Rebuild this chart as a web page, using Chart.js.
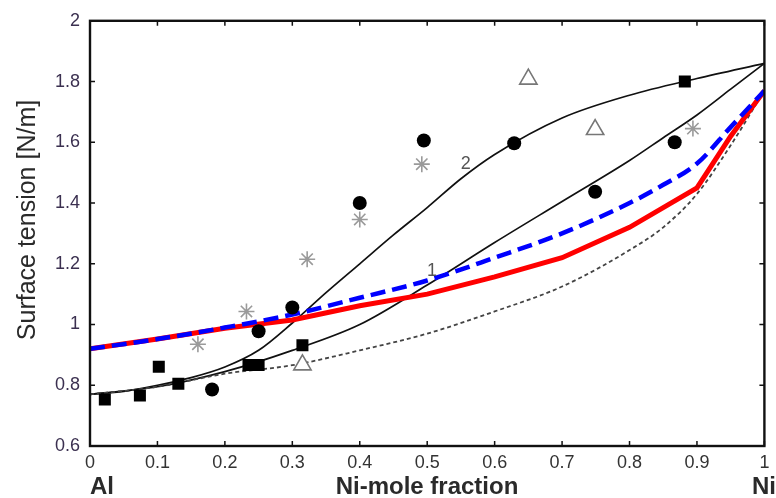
<!DOCTYPE html>
<html>
<head>
<meta charset="utf-8">
<script src="https://cdn.jsdelivr.net/npm/chart.js@4.4.1/dist/chart.umd.min.js"></script>
<style>
  html, body { margin:0; padding:0; background:#fff; }
  #wrap { width:776px; height:498px; position:relative; }
</style>
</head>
<body>
<div id="wrap"><canvas id="chart" width="776" height="498"></canvas></div>
<script>
// ===== DATA =====
const xSteps   = [0, 0.1, 0.2, 0.3, 0.4, 0.5, 0.6, 0.7, 0.8, 0.85, 0.9, 0.95, 1];
const redLine  = [0.92, 0.952, 0.988, 1.015, 1.062, 1.10, 1.157, 1.22, 1.32, 1.385, 1.45, 1.62, 1.77];
const blueLine = [0.92, 0.952, 0.99, 1.033, 1.088, 1.145, 1.22, 1.30, 1.40, 1.46, 1.53, 1.65, 1.77];
const dashLine = [0.77, 0.795, 0.838, 0.866, 0.915, 0.97, 1.043, 1.125, 1.245, 1.32, 1.43, 1.59, 1.77];
const curve1   = [0.77, 0.795, 0.845, 0.915, 1.0, 1.13, 1.27, 1.405, 1.54, 1.615, 1.69, 1.775, 1.86];
const curve2X  = [0, 0.05, 0.1, 0.15, 0.2, 0.25, 0.3, 0.35, 0.4, 0.45, 0.5, 0.55, 0.6, 0.7, 0.8, 0.9, 1];
const curve2   = [0.77, 0.78, 0.80, 0.825, 0.86, 0.915, 1.005, 1.105, 1.20, 1.295, 1.385, 1.48, 1.56, 1.68, 1.755, 1.81, 1.86];

const squaresX = [0.022, 0.074, 0.102, 0.131, 0.235, 0.25, 0.315, 0.882];
const squaresY = [0.753, 0.766, 0.861, 0.805, 0.867, 0.867, 0.932, 1.80];
const circlesX = [0.181, 0.25, 0.30, 0.40, 0.495, 0.629, 0.749, 0.867];
const circlesY = [0.786, 0.978, 1.056, 1.40, 1.606, 1.597, 1.437, 1.60];
const starsX   = [0.16, 0.232, 0.322, 0.40, 0.492, 0.894];
const starsY   = [0.935, 1.043, 1.215, 1.346, 1.528, 1.645];
const trianglesX = [0.315, 0.65, 0.749];
const trianglesY = [0.867, 1.808, 1.642];

const xTicks = [0, 0.1, 0.2, 0.3, 0.4, 0.5, 0.6, 0.7, 0.8, 0.9, 1];
const yTicks = [0.6, 0.8, 1, 1.2, 1.4, 1.6, 1.8, 2];

const pts = (xs, ys) => xs.map((x, i) => ({ x, y: ys[i] }));
const FONT = '"Liberation Sans", Arial, sans-serif';

// frame, inward ticks, axis texts
const framePlugin = {
  id: 'frame',
  afterDraw(chart) {
    const { ctx, chartArea: a, scales: { x, y } } = chart;
    ctx.save();
    ctx.strokeStyle = '#111';
    ctx.lineWidth = 1.5;
    xTicks.forEach(v => {
      const px = x.getPixelForValue(v);
      ctx.beginPath();
      ctx.moveTo(px, a.bottom); ctx.lineTo(px, a.bottom - 5);
      ctx.moveTo(px, a.top); ctx.lineTo(px, a.top + 5);
      ctx.stroke();
    });
    yTicks.forEach(v => {
      const py = y.getPixelForValue(v);
      ctx.beginPath();
      ctx.moveTo(a.left, py); ctx.lineTo(a.left + 5, py);
      ctx.moveTo(a.right, py); ctx.lineTo(a.right - 5, py);
      ctx.stroke();
    });
    ctx.lineWidth = 2.4;
    ctx.strokeRect(a.left, a.top, a.right - a.left, a.bottom - a.top);

    ctx.fillStyle = '#2a2a2a';
    ctx.font = 'bold 24px ' + FONT;
    ctx.textBaseline = 'alphabetic';
    ctx.textAlign = 'left';
    ctx.fillText('Al', a.left, 494);
    ctx.textAlign = 'center';
    ctx.fillText('Ni-mole fraction', 427, 494);
    ctx.textAlign = 'right';
    ctx.fillText('Ni', 776, 494);

    ctx.font = '25px ' + FONT;
    ctx.textBaseline = 'middle';
    ctx.translate(28, 220);
    ctx.rotate(-Math.PI / 2);
    ctx.textAlign = 'center';
    ctx.fillText('Surface tension [N/m]', 0, 0);
    ctx.restore();

    // curve numbers
    ctx.save();
    ctx.fillStyle = '#555';
    ctx.font = '18px ' + FONT;
    ctx.textAlign = 'center';
    ctx.textBaseline = 'middle';
    ctx.fillText('1', x.getPixelForValue(0.507), y.getPixelForValue(1.175));
    ctx.fillText('2', x.getPixelForValue(0.557), y.getPixelForValue(1.53));
    ctx.restore();
  }
};

new Chart(document.getElementById('chart'), {
  type: 'scatter',
  data: {
    datasets: [
      { label: 'red', data: pts(xSteps, redLine), showLine: true, borderColor: '#ff0000', borderWidth: 5, pointRadius: 0, tension: 0, order: 3 },
      { label: 'blue', data: pts(xSteps, blueLine), showLine: true, borderColor: '#0000ff', borderWidth: 4.5, borderDash: [15, 7], pointRadius: 0, cubicInterpolationMode: 'monotone', order: 2 },
      { label: 'dashed', data: pts(xSteps, dashLine), showLine: true, borderColor: '#444', borderWidth: 1.8, borderDash: [4, 3], pointRadius: 0, cubicInterpolationMode: 'monotone', order: 4 },
      { label: '1', data: pts(xSteps, curve1), showLine: true, borderColor: '#111', borderWidth: 1.7, pointRadius: 0, cubicInterpolationMode: 'monotone', order: 5 },
      { label: '2', data: pts(curve2X, curve2), showLine: true, borderColor: '#111', borderWidth: 1.7, pointRadius: 0, cubicInterpolationMode: 'monotone', order: 5 },
      { label: 'squares', data: pts(squaresX, squaresY), pointStyle: 'rect', pointRadius: 8.5, backgroundColor: '#000', borderColor: '#000', borderWidth: 0, order: 1 },
      { label: 'circles', data: pts(circlesX, circlesY), pointStyle: 'circle', pointRadius: 7, backgroundColor: '#000', borderColor: '#000', borderWidth: 0, order: 1 },
      { label: 'stars', data: pts(starsX, starsY), pointStyle: 'star', pointRadius: 8, backgroundColor: '#9a9a9a', borderColor: '#9a9a9a', borderWidth: 1.6, order: 1 },
      { label: 'triangles', data: pts(trianglesX, trianglesY), pointStyle: 'triangle', pointRadius: 10, backgroundColor: '#fff', borderColor: '#777', borderWidth: 1.6, order: 1 }
    ]
  },
  options: {
    responsive: false,
    animation: false,
    layout: { padding: { left: 0, top: 18, right: 9, bottom: 0 } },
    plugins: { legend: { display: false }, tooltip: { enabled: false } },
    scales: {
      x: {
        type: 'linear', min: 0, max: 1,
        afterFit: s => { s.height = 52; },
        afterBuildTicks: s => { s.ticks = xTicks.map(v => ({ value: v })); },
        grid: { display: false, drawTicks: false },
        border: { display: false },
        ticks: { autoSkip: false, maxRotation: 0, padding: 6, color: '#333', font: { family: FONT, size: 18 },
                 callback: v => String(Math.round(v * 10) / 10) }
      },
      y: {
        type: 'linear', min: 0.6, max: 2,
        afterFit: s => { s.width = 90; },
        afterBuildTicks: s => { s.ticks = yTicks.map(v => ({ value: v })); },
        grid: { display: false, drawTicks: false },
        border: { display: false },
        ticks: { autoSkip: false, padding: 10, color: '#3b3050', font: { family: FONT, size: 18 },
                 callback: v => String(Math.round(v * 10) / 10) }
      }
    }
  },
  plugins: [framePlugin]
});
</script>
</body>
</html>
